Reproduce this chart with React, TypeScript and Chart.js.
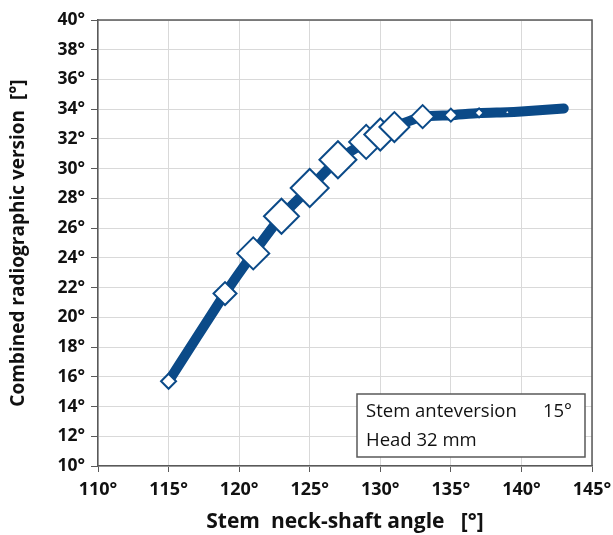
import React, { useEffect, useRef } from "react";
import { Chart, registerables } from "chart.js";

Chart.register(...registerables);

// Stem neck-shaft angle (deg)
const neckShaftAngle = [115, 119, 121, 123, 125, 127, 129, 130, 131, 133, 135, 137, 139, 140, 143];
// Combined radiographic version (deg)
const combinedVersion = [15.7, 21.6, 24.3, 26.8, 28.7, 30.6, 31.8, 32.3, 32.8, 33.5, 33.6, 33.75, 33.8, 33.85, 34.05];
// marker size per point
const markerSize = [7.5, 11.5, 16, 17.5, 19, 18.5, 17, 16, 15, 11.5, 6.5, 4.5, 2.5, 1, 0];

const xTicksMin = 110;
const xTicksMax = 145;
const yTicksMin = 10;
const yTicksMax = 40;

const annotationLine1 = "Stem anteversion";
const annotationValue1 = "15°";
const annotationLine2 = "Head 32 mm";

const FONT = "'Open Sans', 'DejaVu Sans', sans-serif";
const DARK = "#595959";
const BLUE = "#0b4a88";

export default function App() {
  const ref = useRef<HTMLCanvasElement>(null);

  useEffect(() => {
    const canvas = ref.current;
    if (!canvas) return;

    const framePlugin = {
      id: "frameAndNote",
      afterDraw(chart: any) {
        const { ctx, chartArea } = chart;
        const { left, right, top, bottom } = chartArea;
        ctx.save();
        ctx.strokeStyle = DARK;
        ctx.lineWidth = 1.5;
        ctx.beginPath();
        ctx.moveTo(left, top);
        ctx.lineTo(right, top);
        ctx.lineTo(right, bottom);
        ctx.stroke();

        const bw = 228;
        const bh = 63;
        const bx = right - 7 - bw;
        const by = bottom - 9 - bh;
        ctx.fillStyle = "#ffffff";
        ctx.fillRect(bx, by, bw, bh);
        ctx.strokeStyle = DARK;
        ctx.lineWidth = 1.5;
        ctx.strokeRect(bx, by, bw, bh);
        ctx.fillStyle = "#111111";
        ctx.font = `18.5px ${FONT}`;
        ctx.textBaseline = "middle";
        ctx.textAlign = "left";
        ctx.fillText(annotationLine1, bx + 9, by + 18);
        ctx.fillText(annotationLine2, bx + 9, by + 47);
        ctx.textAlign = "right";
        ctx.fillText(annotationValue1, bx + bw - 13, by + 18);
        ctx.restore();
      },
    };

    const chart = new Chart(canvas, {
      type: "line",
      data: {
        datasets: [
          {
            data: neckShaftAngle.map((x, i) => ({ x, y: combinedVersion[i] })),
            borderColor: BLUE,
            borderWidth: 10,
            borderCapStyle: "round",
            borderJoinStyle: "round",
            tension: 0.2,
            pointStyle: "rectRot",
            pointRadius: markerSize,
            pointHoverRadius: markerSize,
            pointBackgroundColor: "#ffffff",
            pointBorderColor: BLUE,
            pointBorderWidth: 2,
            fill: false,
          } as any,
        ],
      },
      options: {
        responsive: false,
        animation: false,
        devicePixelRatio: 1,
        layout: { padding: { top: 20, right: 21, left: 0, bottom: 0 } },
        plugins: {
          legend: { display: false },
          tooltip: { enabled: false },
        },
        scales: {
          x: {
            type: "linear",
            min: xTicksMin,
            max: xTicksMax,
            ticks: {
              stepSize: 5,
              padding: 7,
              color: "#111111",
              font: { family: FONT, size: 18, weight: "bold" },
              callback: (v: any) => `${v}°`,
              maxRotation: 0,
            },
            grid: {
              color: "#d9d9d9",
              tickColor: DARK,
              tickLength: 6,
              lineWidth: 1,
            },
            border: { color: DARK, width: 1.5 },
            title: {
              display: true,
              text: "Stem  neck-shaft angle   [°]",
              color: "#111111",
              font: { family: FONT, size: 21, weight: "bold" },
              padding: { top: 0, bottom: 0 },
            },
            afterFit: (scale: any) => {
              scale.height = 69;
              scale.paddingLeft = 0;
              scale.paddingRight = 0;
            },
          },
          y: {
            type: "linear",
            min: yTicksMin,
            max: yTicksMax,
            ticks: {
              stepSize: 2,
              padding: 6,
              color: "#111111",
              font: { family: FONT, size: 17.5, weight: "bold" },
              callback: (v: any) => `${v}°`,
            },
            grid: {
              color: "#d9d9d9",
              tickColor: DARK,
              tickLength: 7,
              lineWidth: 1,
            },
            border: { color: DARK, width: 1.5 },
            title: {
              display: true,
              text: "Combined radiographic version  [°]",
              color: "#111111",
              font: { family: FONT, size: 19, weight: "bold" },
              padding: { top: 7, bottom: 0 },
            },
            afterFit: (scale: any) => {
              scale.width = 98;
              scale.paddingTop = 0;
              scale.paddingBottom = 0;
            },
          },
        },
      },
      plugins: [framePlugin],
    });

    return () => chart.destroy();
  }, []);

  return (
    <div style={{ position: "fixed", left: 0, top: 0, width: 613, height: 535, background: "#fff" }}>
      <canvas ref={ref} width={613} height={535} style={{ width: 613, height: 535, display: "block" }} />
    </div>
  );
}
